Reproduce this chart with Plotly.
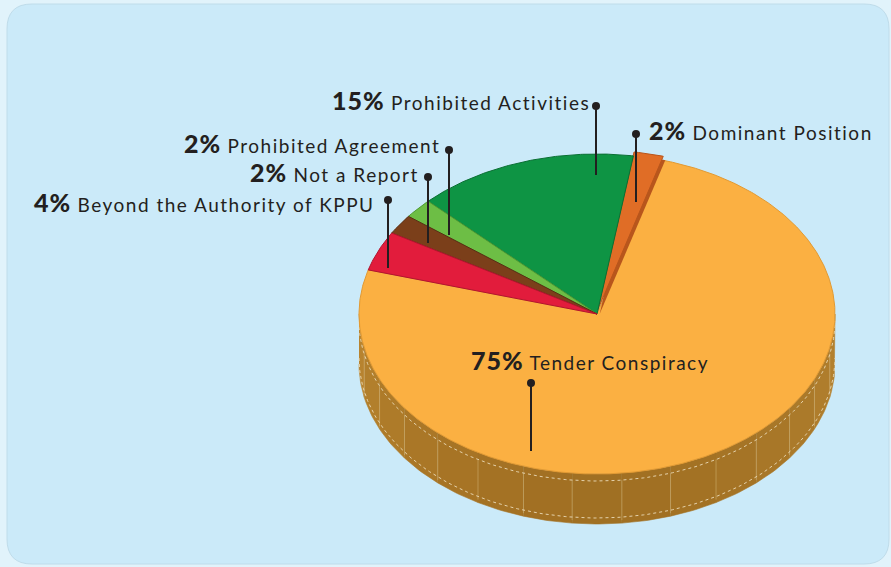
import numpy as np
import plotly.graph_objects as go

# ---------------- data ----------------
categories = ["Dominant Position", "Prohibited Activities", "Prohibited Agreement",
              "Not a Report", "Beyond the Authority of KPPU", "Tender Conspiracy"]
values = [2, 15, 2, 2, 4, 75]
pct_labels = ["2%", "15%", "2%", "2%", "4%", "75%"]
slice_colors = ["#E06D26", "#0E9444", "#6DBE45", "#7B3F1A", "#E21C3C", "#FBB042"]
edge_colors = ["#B9551B", "#0A6F33", "#4E9A32", "#5A2D12", "#B3142E", "#E29A33"]

# ---------------- geometry (layout) ----------------
W, H = 891, 567
cx, cy, a, b, depth = 597, 314, 238, 160, 50
start_deg = 74.0

fig = go.Figure()

def pt(t_deg, da=0.0, db=0.0, dy=0.0):
    t = np.radians(t_deg)
    return cx + (a + da) * np.cos(t), cy - (b + db) * np.sin(t) + dy

# side wall of the pie (front half)
n_seg = 15
seg_edges = np.linspace(180, 360, n_seg + 1)
side_cols = ["#B7832F", "#B27F2C", "#AE7B29", "#AA7727", "#A77425", "#A47224", "#A27023",
             "#A07023", "#A17023", "#A37224", "#A57426", "#A87728", "#AB7A2A", "#AF7D2C", "#B3802E"]
for i in range(n_seg):
    ts = np.linspace(seg_edges[i], seg_edges[i + 1], 12)
    xt, yt = pt(ts)
    xb, yb = pt(ts[::-1], dy=depth)
    fig.add_trace(go.Scatter(x=np.concatenate([xt, xb]), y=np.concatenate([yt, yb]),
                             fill="toself", fillcolor=side_cols[i], mode="lines",
                             line=dict(width=0.6, color=side_cols[i]), hoverinfo="skip",
                             showlegend=False))
# faint vertical seams
for t in np.arange(192, 360, 12):
    x0, y0 = pt(t, dy=7)
    x1, y1 = pt(t, dy=depth - 3)
    fig.add_trace(go.Scatter(x=[x0, x1], y=[y0, y1], mode="lines",
                             line=dict(width=0.7, color="rgba(230,205,150,0.55)"),
                             hoverinfo="skip", showlegend=False))
# dashed rims
for off in (7, depth - 6):
    ts = np.linspace(180, 360, 200)
    xs, ys = pt(ts, dy=off)
    fig.add_trace(go.Scatter(x=xs, y=ys, mode="lines",
                             line=dict(width=1, color="rgba(235,220,185,0.9)", dash="dot"),
                             hoverinfo="skip", showlegend=False))

# top face slices
angle = start_deg
bounds = []
for v in values:
    span = v * 3.6
    bounds.append((angle, angle + span))
    angle += span

# draw big slice first, then the small ones
order = [5, 0, 1, 2, 3, 4]
for i in order:
    t0, t1 = bounds[i]
    n = max(8, int((t1 - t0) * 2))
    ts = np.linspace(t0, t1, n)
    ox = oy = 0.0
    if i == 0:  # slightly pulled-out slice
        mid = np.radians((t0 + t1) / 2)
        ox, oy = 3 * np.cos(mid), -4 * np.sin(mid)
        xs, ys = pt(ts)
        fig.add_trace(go.Scatter(x=np.concatenate([[cx + ox + 2], xs + ox + 2, [cx + ox + 2]]),
                                 y=np.concatenate([[cy + oy + 4], ys + oy + 4, [cy + oy + 4]]),
                                 fill="toself", fillcolor="#B8561C", mode="lines",
                                 line=dict(width=0), hoverinfo="skip", showlegend=False))
    xs, ys = pt(ts)
    fig.add_trace(go.Scatter(x=np.concatenate([[cx + ox], xs + ox, [cx + ox]]),
                             y=np.concatenate([[cy + oy], ys + oy, [cy + oy]]),
                             fill="toself", fillcolor=slice_colors[i], mode="lines",
                             line=dict(width=1, color=edge_colors[i]),
                             hoverinfo="skip", showlegend=False, name=categories[i]))

# ---------------- labels & leader lines (layout positions) ----------------
# (text anchor x, text y, xanchor, dot x, dot y, line bottom y)
label_pos = [
    (647, 130, "left", 636, 134, 202),
    (592, 100, "right", 596, 106, 175),
    (442, 143, "right", 449, 150, 235),
    (421, 172, "right", 428, 177, 243),
    (377, 202, "right", 388, 200, 268),
    (469, 360, "left", 531, 383, 451),
]
for i, (tx, ty, xa, dx, dy_, ly) in enumerate(label_pos):
    fig.add_trace(go.Scatter(x=[dx, dx], y=[dy_, ly], mode="lines",
                             line=dict(width=2, color="#231F20"),
                             hoverinfo="skip", showlegend=False))
    fig.add_trace(go.Scatter(x=[dx], y=[dy_], mode="markers",
                             marker=dict(size=8, color="#231F20"),
                             hoverinfo="skip", showlegend=False))
    fig.add_annotation(x=tx, y=ty, xref="x", yref="y", xanchor=xa, yanchor="middle",
                       showarrow=False,
                       text=(f"<span style='font-family:Lato;font-weight:900;font-size:25px;letter-spacing:1px'>{pct_labels[i]}</span>"
                             f"<span style='letter-spacing:1.5px'> {categories[i]}</span>"),
                       font=dict(family="Lato", size=19, color="#231F20"))

panel_path = ("M 32 4 L 864 4 Q 889 4 889 29 L 889 539 Q 889 564 864 564 "
              "L 32 564 Q 7 564 7 539 L 7 29 Q 7 4 32 4 Z")

fig.update_layout(
    width=W, height=H, autosize=False,
    margin=dict(l=0, r=0, t=0, b=0),
    paper_bgcolor="#E1F3FB", plot_bgcolor="rgba(0,0,0,0)",
    xaxis=dict(range=[0, W], visible=False, fixedrange=True),
    yaxis=dict(range=[H, 0], visible=False, fixedrange=True),
    shapes=[dict(type="path", path=panel_path, xref="x", yref="y",
                 fillcolor="#CBEAF9", line=dict(color="#BFDCEA", width=1), layer="below")],
)

fig.write_html("out.html", config={"displayModeBar": False})
